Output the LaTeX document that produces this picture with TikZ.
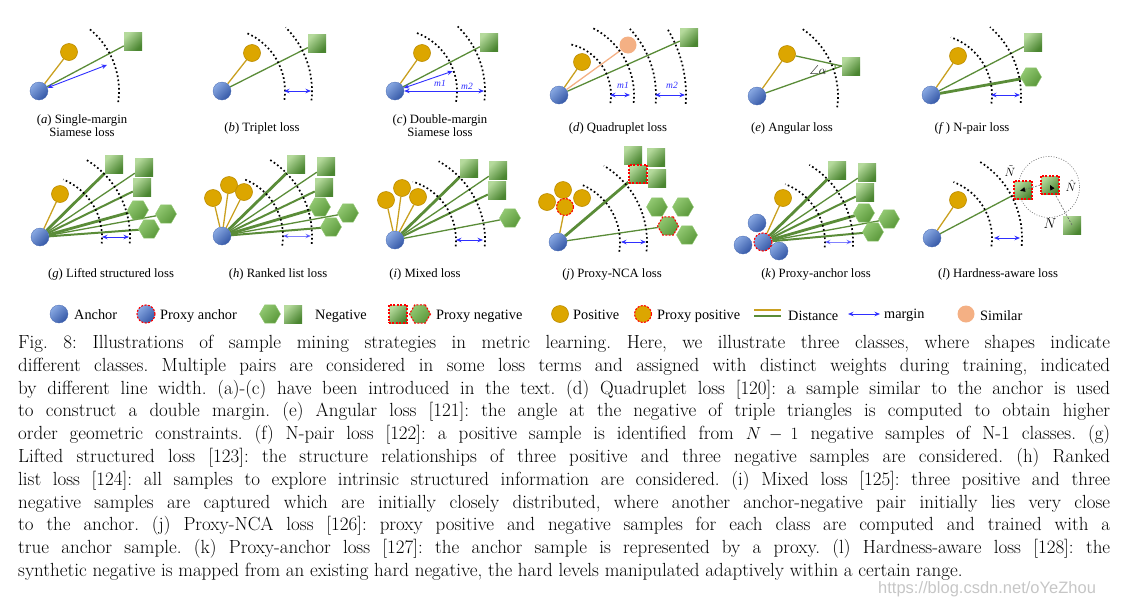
\documentclass[tikz,border=0pt]{standalone}
\usepackage{amsmath,amssymb}
\usepackage{fontspec}
\usepackage{xcolor}
\usepackage{tikz}
\usetikzlibrary{shapes.geometric,arrows.meta,backgrounds}
\newfontfamily\figfont{Liberation Serif}
\newfontfamily\wmfont{Liberation Sans}

\definecolor{ancLight}{HTML}{88A8E2}
\definecolor{ancDark}{HTML}{3457A6}
\definecolor{ancEdge}{HTML}{4466B0}
\definecolor{posFill}{HTML}{DCA600}
\definecolor{posEdge}{HTML}{BC8C00}
\definecolor{negLight}{HTML}{B5DA9C}
\definecolor{negDark}{HTML}{4A8530}
\definecolor{hexLight}{HTML}{92C872}
\definecolor{hexDark}{HTML}{5A983A}
\definecolor{simFill}{HTML}{F4B084}
\definecolor{lineGreen}{HTML}{5A8C38}
\definecolor{lineGold}{HTML}{C9A020}
\definecolor{margBlue}{HTML}{2F2FFF}

\tikzset{
  anc/.style={circle, inner sep=0pt, minimum size=18pt, draw=ancEdge, line width=0.3pt,
    top color=ancLight, bottom color=ancDark, shading angle=45},
  posi/.style={circle, inner sep=0pt, minimum size=17pt, draw=posEdge, line width=0.6pt, fill=posFill},
  simi/.style={circle, inner sep=0pt, minimum size=17pt, fill=simFill},
  nega/.style={rectangle, inner sep=0pt, minimum size=18pt,
    top color=negLight, bottom color=negDark, shading angle=45},
  hexa/.style={regular polygon, regular polygon sides=6, inner sep=0pt, minimum size=21pt,
    top color=hexLight, bottom color=hexDark, shading angle=45, draw=hexLight, line width=0.4pt},
  prx/.style={draw=red, line width=1.1pt, dash pattern=on 2pt off 1.4pt},
  dpos/.style={draw=lineGold, line width=1.3pt},
  dneg/.style={draw=lineGreen, line width=1.3pt},
  dmid/.style={draw=lineGreen, line width=2pt},
  dthick/.style={draw=lineGreen, line width=2.8pt},
  dsim/.style={draw=simFill, line width=1.3pt},
  arcd/.style={line width=1.7pt, dash pattern=on 1.7pt off 2.5pt},
  marg/.style={draw=margBlue, line width=0.9pt,
    {Stealth[length=5.5pt,width=4.5pt]}-{Stealth[length=5.5pt,width=4.5pt]}},
  dasharr/.style={draw=black!60, line width=0.6pt, dash pattern=on 2pt off 1.5pt,
    -{Triangle[length=5pt,width=4.5pt,color=black]}},
  sublabel/.style={font=\figfont\fontsize{12.7}{13.6}\selectfont, inner sep=0pt, align=center},
  mlab/.style={font=\figfont\itshape\fontsize{9.5}{10}\selectfont, text=margBlue, inner sep=0pt},
  lgtxt/.style={font=\figfont\fontsize{14.3}{15}\selectfont, anchor=base west, inner sep=0pt},
  capt/.style={anchor=north west, inner sep=0pt, text width=1092pt, align=justify,
    font=\fontsize{19}{22.8}\selectfont},
}

\begin{document}
\begin{tikzpicture}[x=1pt,y=-1pt]
\useasboundingbox (0,0) rectangle (1126,603);

% (a) single-margin
\node[anc] (a0) at (39,91) {};
\node[posi] (a1) at (69,52) {};
\node[nega] (a2) at (133,41) {};
\begin{scope}[on background layer]
  \draw[dpos] (a0) -- (a1);
  \draw[dneg] (a0) -- (a2);
  \draw[arcd] (a0.center) ++(8:80) arc[start angle=8,end angle=-52,radius=80];
\end{scope}
\path (a0.center) ++(-21:73) coordinate (am);
\draw[marg] (a0) -- (am);
\node[sublabel, anchor=north] (la) at (82,114) {(\textit{a}) Single-margin\\Siamese loss};

% (b) triplet
\node[anc] (b0) at (222,91) {};
\node[posi] (b1) at (252,53) {};
\node[nega] (b2) at (317,43) {};
\begin{scope}[on background layer]
  \draw[dpos] (b0) -- (b1);
  \draw[dneg] (b0) -- (b2);
  \draw[arcd] (b0.center) ++(8:63) arc[start angle=8,end angle=-68,radius=63];
  \draw[arcd] (b0.center) ++(6:90) arc[start angle=6,end angle=-45,radius=90];
\end{scope}
\path (b0.center) ++(0:62) coordinate (bm1) ++(0:27) coordinate (bm2);
\draw[marg] (bm1) -- (bm2);
\node[sublabel, anchor=base] (lb) at (262,131) {(\textit{b}) Triplet loss};

% (c) double-margin
\node[anc] (c0) at (395,91) {};
\node[posi] (c1) at (422,53) {};
\node[nega] (c2) at (489,42) {};
\begin{scope}[on background layer]
  \draw[dpos] (c0) -- (c1);
  \draw[dneg] (c0) -- (c2);
  \draw[arcd] (c0.center) ++(10:62) arc[start angle=10,end angle=-70,radius=62];
  \draw[arcd] (c0.center) ++(6:90) arc[start angle=6,end angle=-46,radius=90];
\end{scope}
\path (c0.center) ++(-19:61) coordinate (cm1);
\path (c0.center) ++(0:89) coordinate (cm2);
\draw[marg] (c0) -- (cm1);
\draw[marg] (c0) -- (cm2);
\node[mlab] (cl1) at (440,83) {m1};
\node[mlab] (cl2) at (467,86) {m2};
\node[sublabel, anchor=north] (lc) at (440,114) {(\textit{c}) Double-margin\\Siamese loss};

% (d) quadruplet
\node[anc] (d0) at (559,95) {};
\node[posi] (d1) at (582,62) {};
\node[simi] (d3) at (628,45) {};
\node[nega] (d2) at (689,37) {};
\begin{scope}[on background layer]
  \draw[dpos] (d0) -- (d1);
  \draw[dsim] (d0) -- (d3);
  \draw[dneg] (d0) -- (d2);
  \draw[arcd] (d0.center) ++(9:52) arc[start angle=9,end angle=-77,radius=52];
  \draw[arcd] (d0.center) ++(6:75) arc[start angle=6,end angle=-64,radius=75];
  \draw[arcd] (d0.center) ++(5:97) arc[start angle=5,end angle=-43,radius=97];
  \draw[arcd] (d0.center) ++(4:127) arc[start angle=4,end angle=-32,radius=127];
\end{scope}
\path (d0.center) ++(0:51) coordinate (dm1) ++(0:20) coordinate (dm2)
  ++(0:25) coordinate (dm3) ++(0:30) coordinate (dm4);
\draw[marg] (dm1) -- (dm2);
\draw[marg] (dm3) -- (dm4);
\node[mlab] (dl1) at (623,85) {m1};
\node[mlab] (dl2) at (672,85) {m2};
\node[sublabel, anchor=base] (ld) at (618,131) {(\textit{d}) Quadruplet loss};

% (e) angular
\node[anc] (e0) at (757,96) {};
\node[posi] (e1) at (787,54) {};
\node[nega] (e2) at (851,66) {};
\begin{scope}[on background layer]
  \draw[dpos] (e0) -- (e1);
  \draw[dneg] (e1) -- (e2.west);
  \draw[dneg] (e0) -- (e2.west);
  \draw[arcd] (e0.center) ++(8:81) arc[start angle=8,end angle=-57,radius=81];
\end{scope}
\draw[dneg, line width=1pt] (e2.west) ++(158:7) arc[start angle=158,end angle=194,radius=7];
\node[font=\fontsize{13}{13}\selectfont, inner sep=0pt] (ea) at (818,70) {$\angle\alpha$};
\node[sublabel, anchor=base] (le) at (792,131) {(\textit{e}) Angular loss};

% (f) N-pair
\node[anc] (f0) at (931,95) {};
\node[posi] (f1) at (958,56) {};
\node[nega] (f2) at (1033,42) {};
\node[hexa] (f3) at (1031,77) {};
\begin{scope}[on background layer]
  \draw[dpos] (f0) -- (f1);
  \draw[dneg] (f0) -- (f2);
  \draw[dthick] (f0) -- (f3);
  \draw[arcd] (f0.center) ++(8:61) arc[start angle=8,end angle=-71,radius=61];
  \draw[arcd] (f0.center) ++(5:90) arc[start angle=5,end angle=-49,radius=90];
\end{scope}
\path (f0.center) ++(0:60) coordinate (fm1) ++(0:29) coordinate (fm2);
\draw[marg] (fm1) -- (fm2);
\node[sublabel, anchor=base] (lf) at (972,131) {(\textit{f}\,) N-pair loss};

% (g) lifted structured
\node[anc] (g0) at (40,237) {};
\node[posi] (g1) at (60,194) {};
\node[nega] (g2) at (114,164) {};
\node[nega] (g3) at (144,167) {};
\node[nega] (g4) at (142,187) {};
\node[hexa] (g6) at (166,214) {};
\node[hexa] (g5) at (138,210) {};
\node[hexa] (g7) at (149,229) {};
\begin{scope}[on background layer]
  \draw[dpos] (g0) -- (g1);
  \draw[dthick] (g0) -- (g2);
  \draw[dneg] (g0) -- (g3);
  \draw[dmid] (g0) -- (g4);
  \draw[dthick] (g0) -- (g5);
  \draw[dneg] (g0) -- (g6);
  \draw[dmid] (g0) -- (g7);
  \draw[arcd] (g0.center) ++(6:62) arc[start angle=6,end angle=-68,radius=62];
  \draw[arcd] (g0.center) ++(4:90) arc[start angle=4,end angle=-59,radius=90];
\end{scope}
\path (g0.center) ++(0:62) coordinate (gm1) ++(0:27) coordinate (gm2);
\draw[marg] (gm1) -- (gm2);
\node[sublabel, anchor=base] (lg) at (111,277) {(\textit{g}) Lifted structured loss};

% (h) ranked list
\node[anc] (h0) at (222,236) {};
\node[posi] (h1) at (213,198) {};
\node[posi] (h2) at (229,185) {};
\node[posi] (h3) at (244,192) {};
\node[nega] (h4) at (296,164) {};
\node[nega] (h5) at (326,166) {};
\node[nega] (h6) at (324,187) {};
\node[hexa] (h8) at (348,213) {};
\node[hexa] (h7) at (320,207) {};
\node[hexa] (h9) at (331,227) {};
\begin{scope}[on background layer]
  \draw[dpos] (h0) -- (h1);
  \draw[dpos] (h0) -- (h2);
  \draw[dpos] (h0) -- (h3);
  \draw[dthick] (h0) -- (h4);
  \draw[dneg] (h0) -- (h5);
  \draw[dmid] (h0) -- (h6);
  \draw[dthick] (h0) -- (h7);
  \draw[dneg] (h0) -- (h8);
  \draw[dmid] (h0) -- (h9);
  \draw[arcd] (h0.center) ++(9:61) arc[start angle=9,end angle=-69,radius=61];
  \draw[arcd] (h0.center) ++(5:90) arc[start angle=5,end angle=-59,radius=90];
\end{scope}
\path (h0.center) ++(0:61) coordinate (hm1) ++(0:28) coordinate (hm2);
\draw[marg, opacity=0.6] (hm1) -- (hm2);
\node[sublabel, anchor=base] (lh) at (278,277) {(\textit{h}) Ranked list loss};

% (i) mixed
\node[anc] (i0) at (395,240) {};
\node[posi] (i1) at (386,200) {};
\node[posi] (i2) at (402,188) {};
\node[posi] (i3) at (418,197) {};
\node[nega] (i4) at (469,168) {};
\node[nega] (i5) at (498,170) {};
\node[nega] (i6) at (497,190) {};
\node[hexa] (i7) at (510,218) {};
\begin{scope}[on background layer]
  \draw[dpos] (i0) -- (i1);
  \draw[dpos] (i0) -- (i2);
  \draw[dpos] (i0) -- (i3);
  \draw[dthick] (i0) -- (i4);
  \draw[dneg] (i0) -- (i5);
  \draw[dmid] (i0) -- (i6);
  \draw[dneg] (i0) -- (i7);
  \draw[arcd] (i0.center) ++(6:61) arc[start angle=6,end angle=-73,radius=61];
  \draw[arcd] (i0.center) ++(4:90) arc[start angle=4,end angle=-61,radius=90];
\end{scope}
\path (i0.center) ++(0:61) coordinate (im1) ++(0:27) coordinate (im2);
\draw[marg] (im1) -- (im2);
\node[sublabel, anchor=base] (li) at (425,277) {(\textit{i}) Mixed loss};

% (j) proxy-NCA
\node[anc] (j0) at (558,242) {};
\node[posi] (j1) at (547,202) {};
\node[posi] (j2) at (563,190) {};
\node[posi] (j3) at (582,198) {};
\node[posi, prx] (j4) at (565,207) {};
\node[nega] (j5) at (633,155) {};
\node[nega] (j6) at (656,157) {};
\node[nega] (j8) at (657,178) {};
\node[nega, prx] (j7) at (638,174) {};
\node[hexa] (j9) at (657,207) {};
\node[hexa] (j10) at (683,207) {};
\node[hexa] (j12) at (687,235) {};
\node[hexa, prx] (j11) at (668,226) {};
\begin{scope}[on background layer]
  \draw[dpos] (j0) -- (j4);
  \draw[dthick] (j0) -- (j7);
  \draw[dneg] (j0) -- (j11);
  \draw[arcd] (j0.center) ++(9:62) arc[start angle=9,end angle=-68,radius=62];
  \draw[arcd] (j0.center) ++(6:89) arc[start angle=6,end angle=-59,radius=89];
\end{scope}
\path (j0.center) ++(0:63) coordinate (jm1) ++(0:25) coordinate (jm2);
\draw[marg] (jm1) -- (jm2);
\node[sublabel, anchor=base] (lj) at (612,277) {(\textit{j}) Proxy-NCA loss};

% (k) proxy-anchor
\node[anc] (k1) at (757,223) {};
\node[anc] (k2) at (743,245) {};
\node[anc] (k3) at (779,251) {};
\node[anc, prx] (k0) at (763,242) {};
\node[posi] (k4) at (783,198) {};
\node[nega] (k5) at (837,170) {};
\node[nega] (k6) at (867,172) {};
\node[nega] (k7) at (865,192) {};
\node[hexa] (k9) at (889,219) {};
\node[hexa] (k8) at (864,213) {};
\node[hexa] (k10) at (873,232) {};
\begin{scope}[on background layer]
  \draw[dpos] (k0) -- (k4);
  \draw[dthick] (k0) -- (k5);
  \draw[dneg] (k0) -- (k6);
  \draw[dmid] (k0) -- (k7);
  \draw[dthick] (k0) -- (k8);
  \draw[dneg] (k0) -- (k9);
  \draw[dmid] (k0) -- (k10);
  \draw[arcd] (k0.center) ++(5:62) arc[start angle=5,end angle=-69,radius=62];
  \draw[arcd] (k0.center) ++(3:90) arc[start angle=3,end angle=-59,radius=90];
\end{scope}
\path (k0.center) ++(0:62) coordinate (km1) ++(0:27) coordinate (km2);
\draw[marg, opacity=0.6] (km1) -- (km2);
\node[sublabel, anchor=base] (lk) at (816,277) {(\textit{k}) Proxy-anchor loss};

% (l) hardness-aware
\node[anc] (l0) at (932,238) {};
\node[posi] (l1) at (958,200) {};
\draw[draw=black!55, line width=0.6pt, dash pattern=on 1pt off 1.6pt]
  (1049,187) circle[radius=30.5];
\node[nega, prx] (l2) at (1023,190) {};
\node[nega, prx] (l3) at (1050,185) {};
\node[nega] (l4) at (1072,225) {};
\begin{scope}[on background layer]
  \draw[dpos] (l0) -- (l1);
  \draw[dneg] (l0) -- (l2);
  \draw[arcd] (l0.center) ++(8:60) arc[start angle=8,end angle=-69,radius=60];
  \draw[arcd] (l0.center) ++(5:90) arc[start angle=5,end angle=-59,radius=90];
\end{scope}
\draw[dasharr] (l4.center) -- (l3.center);
\draw[dasharr, shorten >=-3pt] (l3.west) -- (l2.center);
\node[font=\fontsize{12}{12}\selectfont, inner sep=0pt] (lt1) at (1010,171) {$\tilde{N}$};
\node[font=\fontsize{12}{12}\selectfont, inner sep=0pt] (lt2) at (1071,186) {$\hat{N}$};
\node[font=\fontsize{14}{14}\selectfont, inner sep=0pt] (lt3) at (1050,224) {$N$};
\path (l0.center) ++(0:62) coordinate (lm1) ++(0:26) coordinate (lm2);
\draw[marg] (lm1) -- (lm2);
\node[sublabel, anchor=base] (ll) at (998,277) {(\textit{l}) Hardness-aware loss};

% legend
\node[anc] (lg1) at (59,314) {};
\node[lgtxt] (lgt1) at (74,319) {Anchor};
\node[anc, prx] (lg2) at (146,314) {};
\node[lgtxt] (lgt2) at (160,319) {Proxy anchor};
\node[hexa] (lg3) at (270,314) {};
\node[nega] (lg4) at (293,314) {};
\node[lgtxt] (lgt3) at (315,319) {Negative};
\node[nega, prx] (lg5) at (398,314) {};
\node[hexa, prx] (lg6) at (420,314) {};
\node[lgtxt] (lgt4) at (436,319) {Proxy negative};
\node[posi] (lg7) at (560,314) {};
\node[lgtxt] (lgt5) at (573,319) {Positive};
\node[posi, prx] (lg8) at (643,314) {};
\node[lgtxt] (lgt6) at (657,319) {Proxy positive};
\coordinate (lgd1) at (754,310);
\coordinate (lgd2) at (781,310);
\coordinate (lgd3) at (754,316);
\coordinate (lgd4) at (781,316);
\draw[dpos] (lgd1) -- (lgd2);
\draw[dneg] (lgd3) -- (lgd4);
\node[lgtxt] (lgt7) at (788,320) {Distance};
\coordinate (lgm1) at (848,314);
\coordinate (lgm2) at (880,314);
\draw[marg] (lgm1) -- (lgm2);
\node[lgtxt] (lgt8) at (884,318) {margin};
\node[simi] (lg9) at (966,314) {};
\node[lgtxt] (lgt9) at (980,320) {Similar};

% caption
\node[capt] (cap) at (18,335) {\frenchspacing
Fig. 8: Illustrations of sample mining strategies in metric learning. Here, we illustrate three classes, where shapes indicate\linebreak
different classes. Multiple pairs are considered in some loss terms and assigned with distinct weights during training, indicated\linebreak
by different line width. (a)-(c) have been introduced in the text. (d) Quadruplet loss [120]: a sample similar to the anchor is used\linebreak
to construct a double margin. (e) Angular loss [121]: the angle at the negative of triple triangles is computed to obtain higher\linebreak
order geometric constraints. (f) N-pair loss [122]: a positive sample is identified from $N-1$ negative samples of N-1 classes. (g)\linebreak
Lifted structured loss [123]: the structure relationships of three positive and three negative samples are considered. (h) Ranked\linebreak
list loss [124]: all samples to explore intrinsic structured information are considered. (i) Mixed loss [125]: three positive and three\linebreak
negative samples are captured which are initially closely distributed, where another anchor-negative pair initially lies very close\linebreak
to the anchor. (j) Proxy-NCA loss [126]: proxy positive and negative samples for each class are computed and trained with a\linebreak
true anchor sample. (k) Proxy-anchor loss [127]: the anchor sample is represented by a proxy. (l) Hardness-aware loss [128]: the\linebreak
synthetic negative is mapped from an existing hard negative, the hard levels manipulated adaptively within a certain range.};
\node[font=\wmfont\fontsize{16.5}{17}\selectfont, text=gray!45, anchor=base west, inner sep=0pt]
  (wm) at (878,593) {https://blog.csdn.net/oYeZhou};
\end{tikzpicture}
\end{document}
